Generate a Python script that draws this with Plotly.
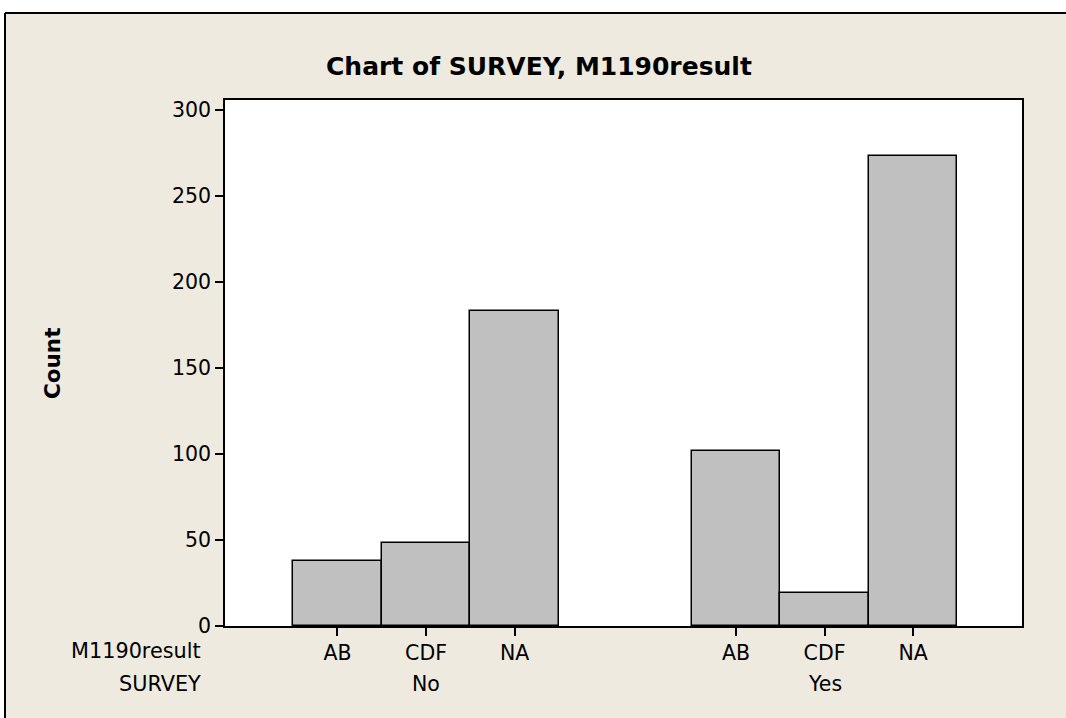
import plotly.graph_objects as go

# Data
survey_groups = ["No", "Yes"]
results = ["AB", "CDF", "NA"]
counts_no = [38, 48, 183]
counts_yes = [102, 19, 273]
y_ticks = [0, 50, 100, 150, 200, 250, 300]

FONT = "DejaVu Sans"
W, H = 1066, 718
L, R, T, B = 225, 44, 100, 92
pw, ph = W - L - R, H - T - B

def px_x(p):
    return (p - L) / pw

def px_y(p):
    return (H - B - p) / ph

# category positions: groups separated by a gap
group_offsets = [0.0, 4.5]
xs, ys, labels = [], [], []
for off, vals in zip(group_offsets, [counts_no, counts_yes]):
    for i, (r, v) in enumerate(zip(results, vals)):
        xs.append(off + i)
        ys.append(v)
        labels.append(r)

fig = go.Figure()
fig.add_trace(go.Bar(
    x=xs, y=ys, width=1.0,
    marker=dict(color="#C0C0C0", line=dict(color="black", width=1.5)),
    showlegend=False, hoverinfo="x+y",
))

fig.update_layout(
    width=W, height=H,
    margin=dict(l=L, r=R, t=T, b=B),
    paper_bgcolor="#EEEAE0",
    plot_bgcolor="white",
    font=dict(family=FONT, size=20, color="black"),
    bargap=0,
)
fig.update_xaxes(
    range=[-1.27, 7.73], tickvals=xs, ticktext=labels,
    ticks="outside", ticklen=8, tickwidth=1.5, tickcolor="black",
    showline=True, linecolor="black", linewidth=1.5, mirror=True,
    showgrid=False, zeroline=False, fixedrange=True,
    tickfont=dict(family=FONT, size=20.5),
)
fig.update_yaxes(
    range=[0, 305.8], tickvals=y_ticks,
    ticks="outside", ticklen=8, tickwidth=1.5, tickcolor="black",
    showline=True, linecolor="black", linewidth=1.5, mirror=True,
    showgrid=False, zeroline=False, fixedrange=True,
    tickfont=dict(family=FONT, size=20.5),
)

ann = []
# group labels (second row)
for off, g in zip(group_offsets, survey_groups):
    ann.append(dict(x=off + 1, y=px_y(684), xref="x", yref="paper", text=g,
                    showarrow=False, font=dict(size=20.5), yanchor="middle"))
# row headers
ann.append(dict(x=px_x(203), y=px_y(651), xref="paper", yref="paper", text="M1190result",
                showarrow=False, xanchor="right", yanchor="middle", font=dict(size=20.8)))
ann.append(dict(x=px_x(203), y=px_y(684), xref="paper", yref="paper", text="SURVEY",
                showarrow=False, xanchor="right", yanchor="middle", font=dict(size=20.8)))
# title
ann.append(dict(x=px_x(539), y=px_y(66), xref="paper", yref="paper",
                text="<b>Chart of SURVEY, M1190result</b>",
                showarrow=False, xanchor="center", yanchor="middle", font=dict(size=25)))
# y title
ann.append(dict(x=px_x(52), y=px_y(364), xref="paper", yref="paper",
                text="<b>Count</b>", textangle=-90,
                showarrow=False, xanchor="center", yanchor="middle", font=dict(size=21.5)))
fig.update_layout(annotations=ann)

# white strips outside the frame and the frame lines (top and left)
shapes = [
    dict(type="rect", xref="paper", yref="paper", x0=px_x(-5), x1=px_x(W + 5),
         y0=px_y(13), y1=px_y(-5), fillcolor="white", line=dict(width=0), layer="above"),
    dict(type="rect", xref="paper", yref="paper", x0=px_x(-5), x1=px_x(5),
         y0=px_y(H + 5), y1=px_y(-5), fillcolor="white", line=dict(width=0), layer="above"),
    dict(type="line", xref="paper", yref="paper", x0=px_x(5), x1=px_x(W + 5),
         y0=px_y(13), y1=px_y(13), line=dict(color="black", width=2), layer="above"),
    dict(type="line", xref="paper", yref="paper", x0=px_x(5), x1=px_x(5),
         y0=px_y(13), y1=px_y(H + 5), line=dict(color="black", width=2), layer="above"),
]
fig.update_layout(shapes=shapes)

fig.write_html(
    "out.html",
    config={"displayModeBar": False},
    post_script="document.body.style.margin='0';document.body.style.overflow='hidden';",
)
